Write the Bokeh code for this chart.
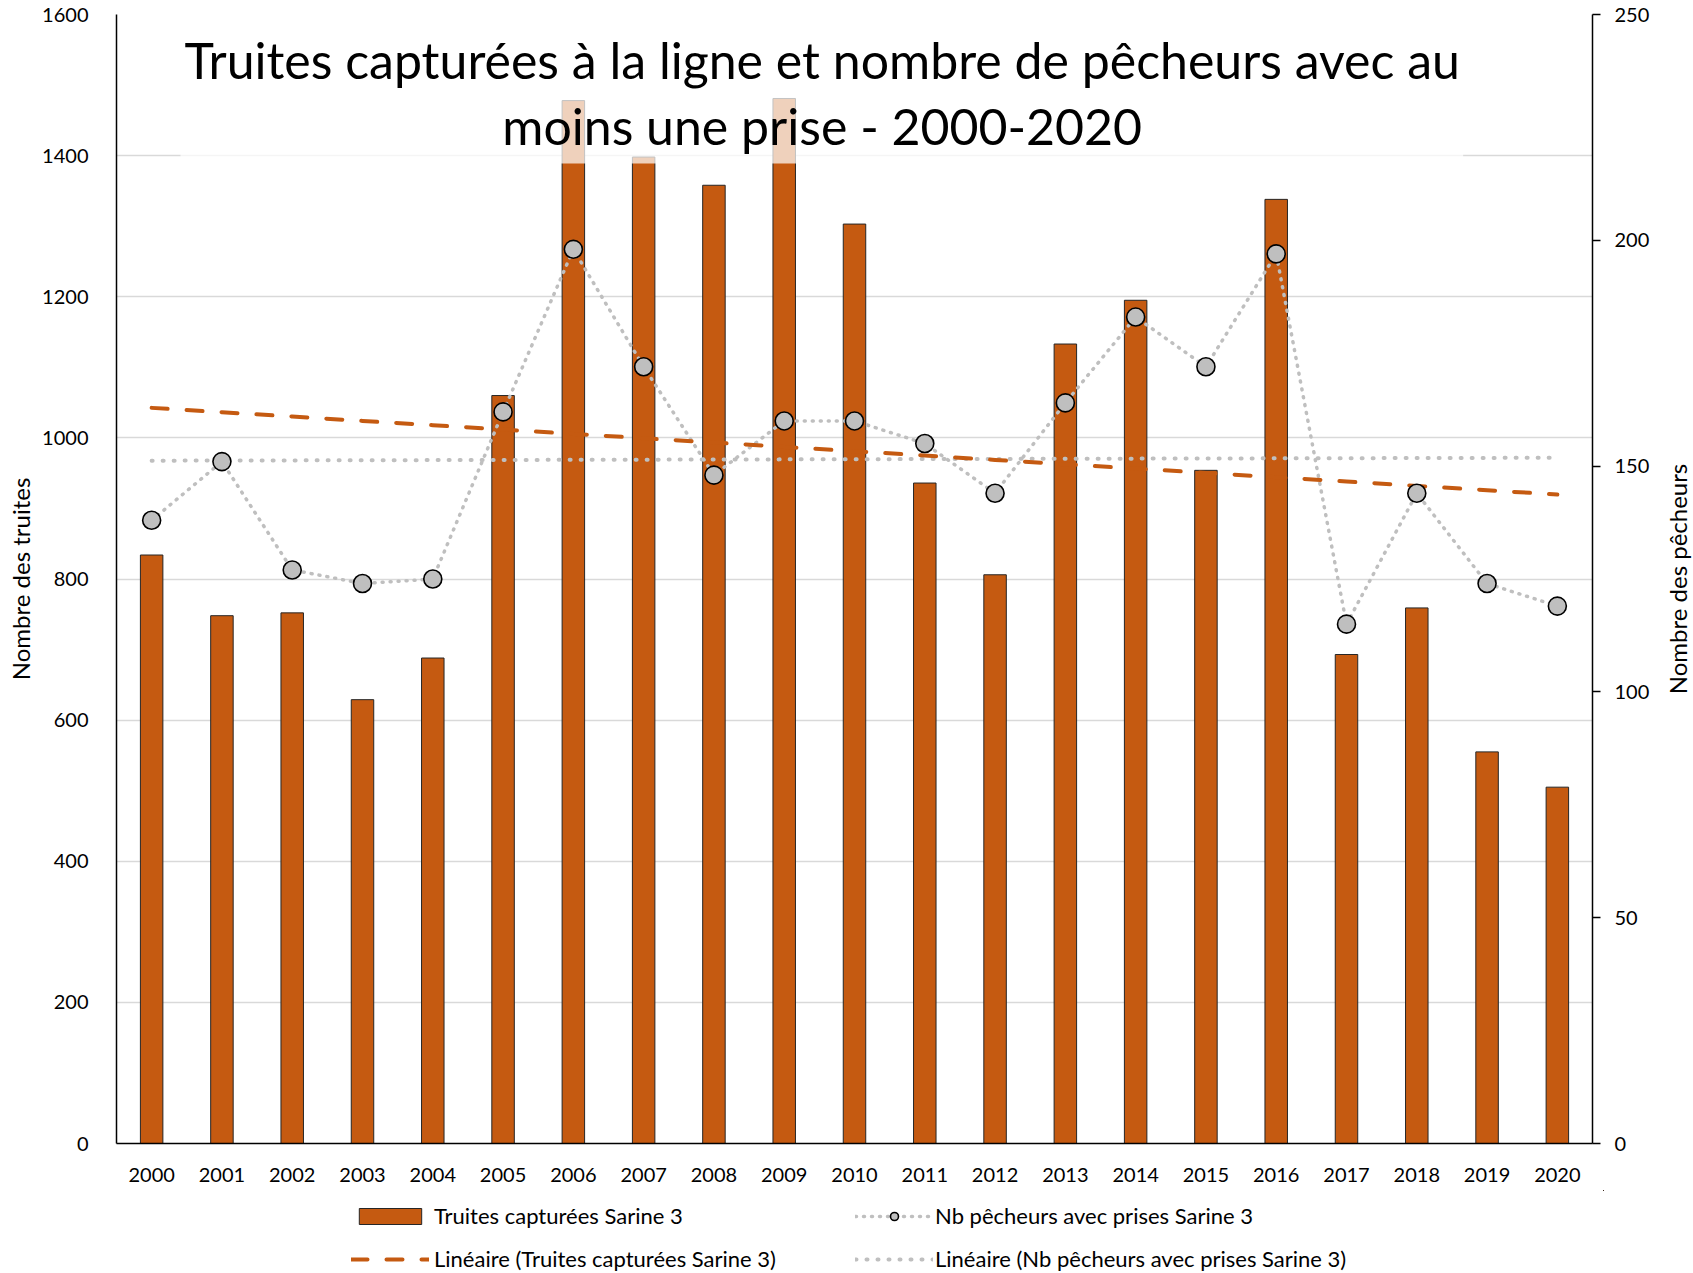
import math
import numpy as np
from bokeh.plotting import figure
from bokeh.layouts import column, row
from bokeh.models import (Range1d, LinearAxis, FixedTicker, Legend, LegendItem,
                          BoxAnnotation, Label, ColumnDataSource)
from bokeh.embed import file_html
from bokeh.resources import INLINE

# ---------------- data ----------------
years = list(range(2000, 2021))
truites = [834, 748, 752, 629, 688, 1060, 1478, 1398, 1358, 1481, 1303,
           936, 806, 1133, 1195, 954, 1338, 693, 759, 555, 505]
pecheurs = [138, 151, 127, 124, 125, 162, 198, 172, 148, 160, 160,
            155, 144, 164, 183, 172, 197, 115, 144, 124, 119]
left_ticks = [0, 200, 400, 600, 800, 1000, 1200, 1400, 1600]
right_ticks = [0, 50, 100, 150, 200, 250]
title_lines = ["Truites capturées à la ligne et nombre de pêcheurs avec au",
               "moins une prise - 2000-2020"]
y_left_label = "Nombre des truites"
y_right_label = "Nombre des pêcheurs"
legend_labels = ["Truites capturées Sarine 3",
                 "Nb pêcheurs avec prises Sarine 3",
                 "Linéaire (Truites capturées Sarine 3)",
                 "Linéaire (Nb pêcheurs avec prises Sarine 3)"]

# linear trend lines (Excel "Linéaire")
yr = np.array(years, dtype=float)
c1 = np.polyfit(yr, np.array(truites, dtype=float), 1)
c2 = np.polyfit(yr, np.array(pecheurs, dtype=float), 1)
trend_truites = list(np.polyval(c1, yr))
trend_pecheurs = list(np.polyval(c2, yr))

FONT = "Lato"
ORANGE = "#C55A11"
GRAY = "#BFBFBF"
TXT = "#000000"

src = ColumnDataSource(dict(year=years, truites=truites, pecheurs=pecheurs,
                            t1=trend_truites, t2=trend_pecheurs))

# styles shared by the chart and the legend strip
BAR_KW = dict(width=0.32, fill_color=ORANGE, line_color="#262626", line_width=1)
CONN_KW = dict(line_color=GRAY, line_width=3.5, line_dash="1 7", line_cap="round")
TR2_KW = dict(line_color=GRAY, line_width=4, line_dash="1 10", line_cap="round")
TR1_KW = dict(line_color=ORANGE, line_width=4, line_dash="16 19", line_cap="round")
PTS_KW = dict(size=18, fill_color=GRAY, line_color="black", line_width=1.6)

MAIN_H = 1190
p = figure(width=1652, height=MAIN_H, output_backend="svg", toolbar_location=None,
           x_range=Range1d(1999.5, 2020.5), y_range=Range1d(0, 1600),
           min_border_left=116, min_border_right=60, min_border_top=14,
           min_border_bottom=47)
p.extra_y_ranges = {"right": Range1d(0, 250)}
p.outline_line_color = None
p.background_fill_color = "white"
p.border_fill_color = "white"

# grid
p.xgrid.visible = False
p.ygrid.ticker = FixedTicker(ticks=left_ticks)
p.ygrid.grid_line_color = "#D9D9D9"
p.ygrid.grid_line_width = 1.3

# axes
xa = p.xaxis[0]
xa.ticker = FixedTicker(ticks=years)
xa.major_label_overrides = {y: str(y) for y in years}
ya = p.yaxis[0]
ya.ticker = FixedTicker(ticks=left_ticks)
ya.axis_label = y_left_label
ya.axis_label_standoff = 4
ya.major_label_standoff = 22

ra = LinearAxis(y_range_name="right", ticker=FixedTicker(ticks=right_ticks))
ra.major_tick_out = 8
ra.major_tick_in = 0
ra.major_label_standoff = 14
p.add_layout(ra, "right")

for ax in [xa, ya, ra]:
    ax.axis_line_color = "black"
    ax.axis_line_width = 1.5
    ax.minor_tick_line_color = None
    ax.major_label_text_font = FONT
    ax.major_label_text_font_size = "20px"
    ax.major_label_text_color = TXT
    ax.axis_label_text_font = FONT
    ax.axis_label_text_font_size = "24px"
    ax.axis_label_text_font_style = "normal"
    ax.axis_label_text_color = TXT
xa.major_tick_line_color = None
xa.major_label_standoff = 18
ya.major_tick_line_color = None
ra.major_tick_line_color = "black"
ra.major_tick_line_width = 1.5

# glyphs
bars = p.vbar(x="year", top="truites", source=src, **BAR_KW)
conn = p.line(x="year", y="pecheurs", source=src, y_range_name="right", **CONN_KW)
tr2 = p.line(x="year", y="t2", source=src, y_range_name="right", **TR2_KW)
tr1 = p.line(x="year", y="t1", source=src, **TR1_KW)
pts = p.scatter(x="year", y="pecheurs", source=src, y_range_name="right", **PTS_KW)

# title area (semi transparent white box behind the title)
p.add_layout(BoxAnnotation(left=2000.41, right=2018.66, bottom=1389, top=1592,
                           fill_color="white", fill_alpha=0.72, line_color=None))
p.add_layout(Label(x=2009.54, y=1536, text=title_lines[0], text_align="center",
                   text_baseline="middle", text_font=FONT, text_font_size="50px",
                   text_color=TXT))
p.add_layout(Label(x=2009.54, y=1442, text=title_lines[1], text_align="center",
                   text_baseline="middle", text_font=FONT, text_font_size="50px",
                   text_color=TXT))

# ---------------- right axis title strip (reads bottom-to-top) ----------------
rf = figure(width=41, height=MAIN_H, output_backend="svg", toolbar_location=None,
            x_range=Range1d(0, 41), y_range=Range1d(0, 1600),
            x_axis_type=None, y_axis_type=None,
            min_border_left=0, min_border_right=0, min_border_top=14,
            min_border_bottom=47)
rf.outline_line_color = None
rf.grid.visible = False
rf.background_fill_color = "white"
rf.border_fill_color = "white"
rf.add_layout(Label(x=25, y=800, text=y_right_label, angle=math.pi / 2,
                    text_align="center", text_baseline="middle", text_font=FONT,
                    text_font_size="24px", text_color=TXT))

# ---------------- legend strip ----------------
lf = figure(width=1693, height=82, output_backend="svg", toolbar_location=None,
            x_range=Range1d(-10, -9), y_range=Range1d(-2000, -1999),
            x_axis_type=None, y_axis_type=None,
            min_border_left=108, min_border_right=90, min_border_top=0,
            min_border_bottom=0)
lf.outline_line_color = None
lf.grid.visible = False
lf.background_fill_color = "white"
lf.border_fill_color = "white"
lbars = lf.vbar(x="year", top="truites", source=src, **BAR_KW)
lconn = lf.line(x="year", y="pecheurs", source=src, **CONN_KW)
ltr2 = lf.line(x="year", y="t2", source=src, **TR2_KW)
ltr1 = lf.line(x="year", y="t1", source=src, **TR1_KW)
lpts = lf.scatter(x="year", y="pecheurs", source=src, **PTS_KW)


def make_legend(items, loc, standoff):
    lg = Legend(items=items, orientation="vertical", location=loc)
    lg.glyph_width = 78
    lg.glyph_height = 20
    lg.label_standoff = standoff
    lg.label_height = 26
    lg.spacing = 16
    lg.padding = 0
    lg.margin = 0
    lg.border_line_color = None
    lg.background_fill_alpha = 0
    lg.label_text_font = FONT
    lg.label_text_font_size = "22px"
    lg.label_text_color = TXT
    return lg


leg1 = make_legend([LegendItem(label=legend_labels[0], renderers=[lbars]),
                    LegendItem(label=legend_labels[2], renderers=[ltr1])], (243, 0), 5)
leg2 = make_legend([LegendItem(label=legend_labels[1], renderers=[lconn, lpts]),
                    LegendItem(label=legend_labels[3], renderers=[ltr2])], (747, 0), 2)
lf.add_layout(leg1)
lf.add_layout(leg2)

layout = column(row(p, rf, spacing=0), lf, spacing=0)
open("out.html", "w").write(file_html(layout, INLINE))
